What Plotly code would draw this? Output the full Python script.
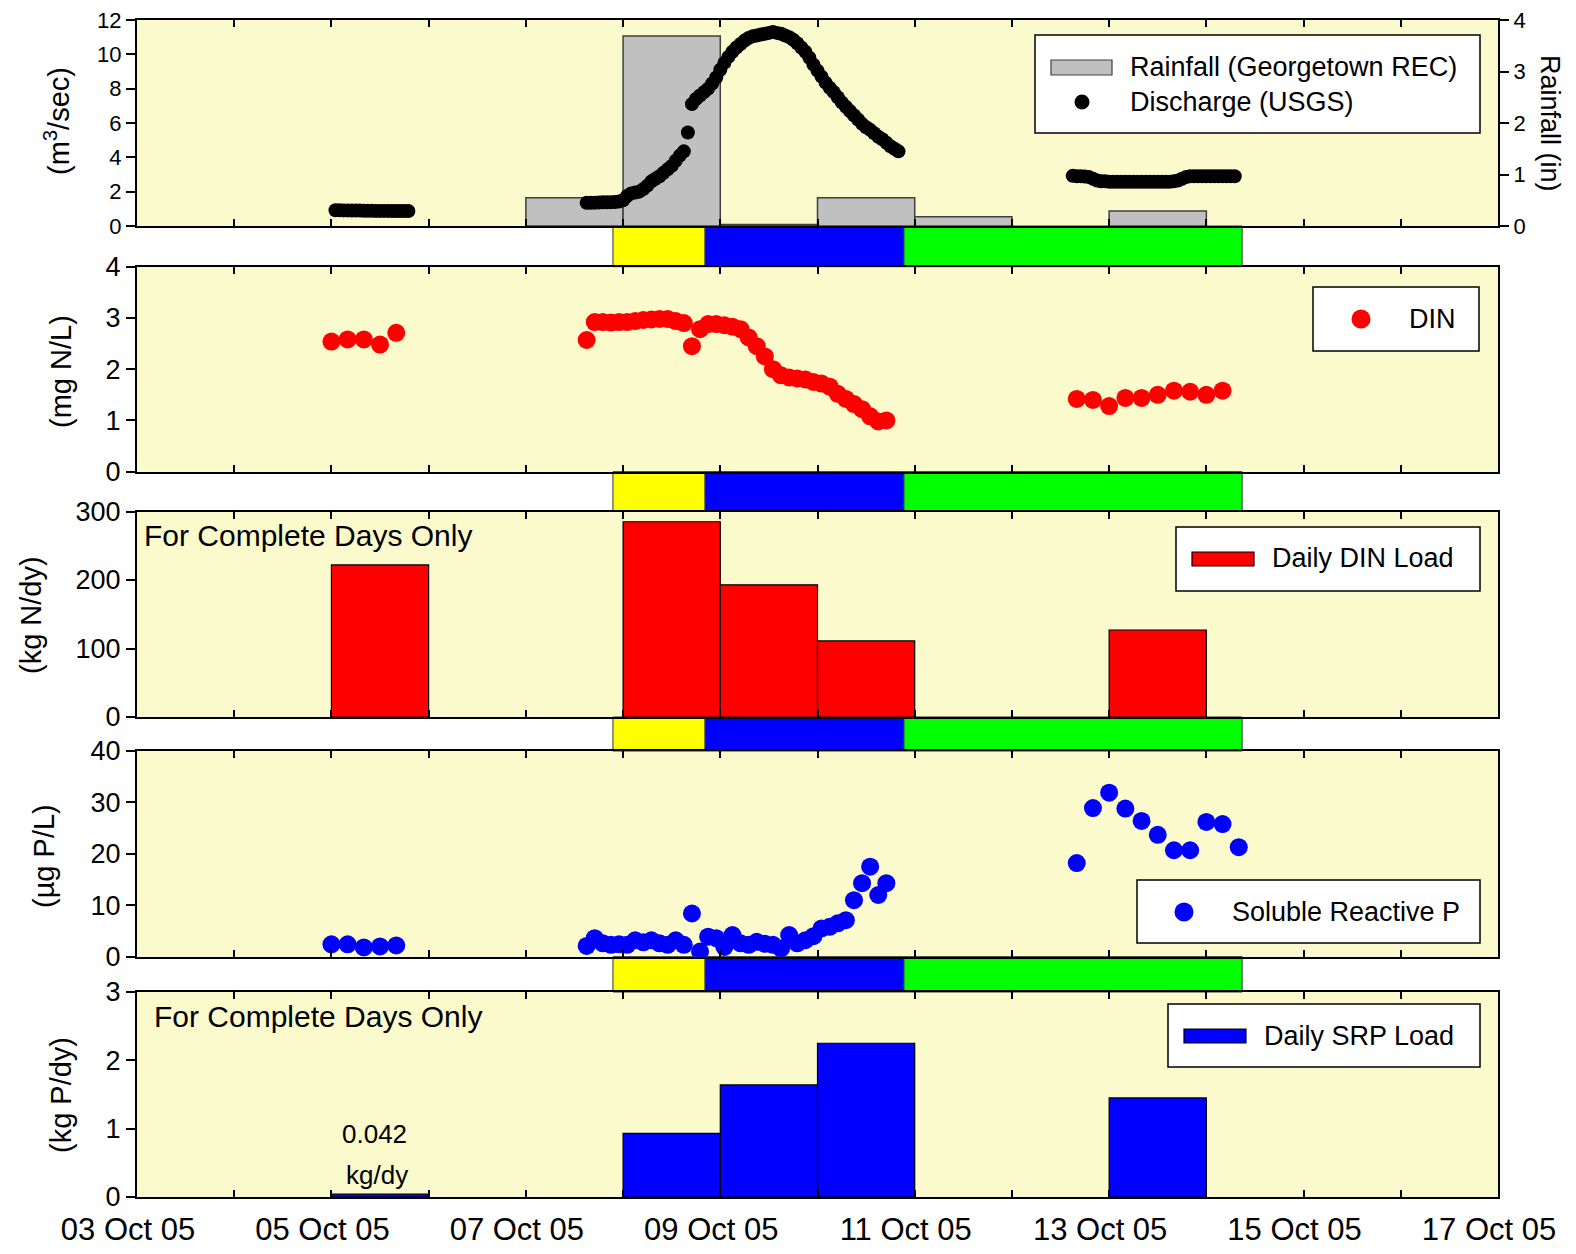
import pandas as pd
import plotly.graph_objects as go

# ---------------- data ----------------
# Discharge (USGS), m3/s, hourly
q_oct5 = [0.92, 0.92, 0.91, 0.91, 0.90, 0.90, 0.90, 0.89, 0.89, 0.89, 0.88, 0.88,
          0.88, 0.88, 0.87, 0.87, 0.87, 0.87, 0.87]                       # Oct 5 01:00 ->
q_storm = [1.35, 1.35, 1.36, 1.37, 1.38, 1.38, 1.39, 1.40, 1.42,           # Oct 7 15:00 ->
           1.50, 1.75, 1.90, 1.95, 2.00, 2.15, 2.35, 2.60, 2.75, 2.90, 3.10, 3.30,
           3.50, 3.80, 4.10, 4.35, 5.45, 7.10, 7.40, 7.60, 7.80, 8.00, 8.30, 8.65,
           9.10, 9.50, 9.85, 10.15, 10.40, 10.60, 10.80, 10.95, 11.05, 11.10, 11.15, 11.20,
           11.25, 11.30, 11.25, 11.20, 11.10, 11.00, 10.85, 10.65, 10.40, 10.15, 9.80, 9.40,
           9.05, 8.70, 8.35, 8.05, 7.80, 7.50, 7.20, 6.95, 6.70, 6.45, 6.20, 5.95,
           5.75, 5.60, 5.40, 5.20, 5.05, 4.85, 4.65, 4.50, 4.35]
q_late = [2.92, 2.90, 2.90, 2.88, 2.85, 2.75, 2.65, 2.60, 2.60,              # Oct 12 15:00 ->
          2.58, 2.58, 2.58, 2.58, 2.58, 2.58, 2.58, 2.58, 2.58, 2.58, 2.58, 2.58,
          2.58, 2.58, 2.58, 2.58, 2.60, 2.65, 2.75, 2.85, 2.90, 2.90, 2.90, 2.90,
          2.90, 2.90, 2.90, 2.90, 2.90, 2.90, 2.90, 2.90]

# Rainfall (Georgetown REC), inches per day
rain_days = ["2005-10-07", "2005-10-08", "2005-10-09", "2005-10-10", "2005-10-11", "2005-10-13"]
rain_in = [0.55, 3.69, 0.03, 0.55, 0.18, 0.29]

# DIN, mg N/L
din_oct5 = [2.54, 2.58, 2.58, 2.48, 2.71]                                  # 4-hourly, Oct 5 00:00
din_storm = [2.57, 2.92, 2.92, 2.91, 2.92, 2.92, 2.94, 2.96, 2.97, 2.98, 2.98, 2.94,
             2.90, 2.45, 2.78, 2.88, 2.88, 2.86, 2.83, 2.78, 2.62, 2.45, 2.25, 2.00,
             1.88, 1.84, 1.82, 1.80, 1.75, 1.72, 1.66, 1.52, 1.42, 1.32, 1.22, 1.08,
             0.98, 1.00]                                                     # 2-hourly, Oct 7 15:00
din_late = [1.42, 1.40, 1.28, 1.44, 1.44, 1.50, 1.58, 1.56, 1.50, 1.58]    # 4-hourly, Oct 12 16:00

# Soluble reactive P, ug P/L
srp_oct5 = [2.4, 2.4, 1.8, 2.0, 2.2]
srp_storm = [2.1, 3.6, 2.6, 2.3, 2.4, 2.3, 3.2, 2.8, 3.2, 2.6, 2.3, 3.2,
             2.3, 8.4, 1.0, 3.9, 3.6, 1.9, 4.2, 2.6, 2.3, 2.9, 2.5, 2.3,
             1.6, 4.2, 2.6, 3.2, 4.0, 5.5, 5.8, 6.5, 7.1, 11.0, 14.3, 17.5,
             12.0, 14.3]
srp_late = [18.2, 28.9, 31.9, 28.8, 26.4, 23.7, 20.7, 20.7, 26.2, 25.8, 21.3]

# Daily loads (complete days only)
load_days = ["2005-10-05", "2005-10-08", "2005-10-09", "2005-10-10", "2005-10-13"]
din_load = [222, 285, 193, 111, 127]      # kg N/dy
srp_load = [0.042, 0.93, 1.64, 2.25, 1.45]  # kg P/dy

# Hydrograph phase bands (start, end, colour)
band_edges = ["2005-10-07 21:30", "2005-10-08 20:15", "2005-10-10 21:20", "2005-10-14 08:50"]
band_colors = ["#FFFF00", "#0000FF", "#00FF00"]

# Axis ticks
major_ticks = ["2005-10-03", "2005-10-05", "2005-10-07", "2005-10-09",
               "2005-10-11", "2005-10-13", "2005-10-15", "2005-10-17"]
tick_labels = ["03 Oct 05", "05 Oct 05", "07 Oct 05", "09 Oct 05",
               "11 Oct 05", "13 Oct 05", "15 Oct 05", "17 Oct 05"]
minor_ticks = ["2005-10-04", "2005-10-06", "2005-10-08", "2005-10-10",
               "2005-10-12", "2005-10-14", "2005-10-16"]

# ---------------- times ----------------
def hourly(start, n, step="h"):
    return list(pd.date_range(start, periods=n, freq=step))

q_t = (hourly("2005-10-05 01:00", len(q_oct5)) + [None] +
       hourly("2005-10-07 15:00", len(q_storm)) + [None] +
       hourly("2005-10-12 15:00", len(q_late)))
q_v = q_oct5 + [None] + q_storm + [None] + q_late

din_t = (hourly("2005-10-05 00:00", len(din_oct5), "4h") +
         hourly("2005-10-07 15:00", len(din_storm), "2h") +
         hourly("2005-10-12 16:00", len(din_late), "4h"))
din_v = din_oct5 + din_storm + din_late
srp_t = (hourly("2005-10-05 00:00", len(srp_oct5), "4h") +
         hourly("2005-10-07 15:00", len(srp_storm), "2h") +
         hourly("2005-10-12 16:00", len(srp_late), "4h"))
srp_v = srp_oct5 + srp_storm + srp_late

DAY_MS = 86400000
def noon(days):
    return [pd.Timestamp(d) + pd.Timedelta(hours=12) for d in days]

# ---------------- geometry (page pixels) ----------------
OFF = 8                       # page body margin
W, H = 1576 - 2 * OFF, 1254 - 2 * OFF
L, R, T, B = 137, 1498, 20, 1197
def px(x):
    return (x - L) / (R - L)
def py(y):
    return (B - y) / (B - T)

panels = [(20, 226), (266.7, 471.7), (511.5, 717), (751, 956.7), (992, 1197)]
doms = [[py(b), py(t)] for t, b in panels]

FONT = "Liberation Sans, Arial, Helvetica, sans-serif"
BG = "#FAFACD"

fig = go.Figure()

fig.add_trace(go.Bar(x=noon(rain_days), y=rain_in, width=[DAY_MS] * len(rain_in),
                     marker=dict(color="#C0C0C0", line=dict(color="#404040", width=1.5)),
                     xaxis="x", yaxis="y", showlegend=False))
fig.add_trace(go.Scatter(x=q_t, y=q_v, mode="markers",
                         marker=dict(color="black", size=14, line=dict(width=0)),
                         xaxis="x", yaxis="y6", showlegend=False, connectgaps=False))
fig.add_trace(go.Scatter(x=din_t, y=din_v, mode="markers",
                         marker=dict(color="#FF0000", size=18, line=dict(width=0)),
                         xaxis="x2", yaxis="y2", showlegend=False))
fig.add_trace(go.Bar(x=noon(load_days), y=din_load, width=[DAY_MS] * len(din_load),
                     marker=dict(color="#FF0000", line=dict(color="black", width=1.2)),
                     xaxis="x3", yaxis="y3", showlegend=False))
fig.add_trace(go.Scatter(x=srp_t, y=srp_v, mode="markers",
                         marker=dict(color="#0000FF", size=18, line=dict(width=0)),
                         xaxis="x4", yaxis="y4", showlegend=False))
fig.add_trace(go.Bar(x=noon(load_days), y=srp_load, width=[DAY_MS] * len(srp_load),
                     marker=dict(color="#0000FF", line=dict(color="black", width=1.2)),
                     xaxis="x5", yaxis="y5", showlegend=False))

xrange = ["2005-10-03", "2005-10-17"]
def xax(anchor, labels=False):
    d = dict(type="date", range=xrange, domain=[0, 1], anchor=anchor, automargin=False,
             tickmode="array", tickvals=major_ticks, ticktext=tick_labels,
             ticks="inside", ticklen=7, tickwidth=1.5, tickcolor="black",
             minor=dict(tickmode="array", tickvals=minor_ticks, ticks="inside",
                        ticklen=7, tickwidth=1.5, tickcolor="black"),
             showline=True, linewidth=2, linecolor="black", mirror="ticks",
             showgrid=False, zeroline=False, showticklabels=labels, ticklabeloverflow="allow",
             tickfont=dict(family="Liberation Sans Narrow, Arial Narrow, " + FONT, size=31, color="black"))
    if labels:
        d["ticklabelshift"] = -9
        d["ticklabelstandoff"] = 4
    return d

def yax(dom, rng, dt, size=27, side="left", mirror=True):
    return dict(domain=dom, range=rng, dtick=dt, tick0=0, side=side, automargin=False,
                ticks="outside", ticklen=9, tickwidth=1.5, tickcolor="black",
                showline=True, linewidth=2, linecolor="black", mirror=mirror,
                showgrid=False, zeroline=False, ticklabeloverflow="allow",
                tickfont=dict(family=FONT, size=size, color="black"))

layout = dict(
    width=W, height=H,
    margin=dict(l=L - OFF, r=(W + OFF) - R, t=T - OFF, b=(H + OFF) - B, autoexpand=False),
    paper_bgcolor="white", plot_bgcolor=BG, font=dict(family=FONT, color="black"),
    showlegend=False, barmode="overlay",
    xaxis=xax("y"), xaxis2=xax("y2"), xaxis3=xax("y3"), xaxis4=xax("y4"), xaxis5=xax("y5", True),
    yaxis=yax(doms[0], [0, 4], 1, size=22, side="right"),
    yaxis2=yax(doms[1], [0, 4], 1),
    yaxis3=yax(doms[2], [0, 300], 100),
    yaxis4=yax(doms[3], [0, 40], 10),
    yaxis5=yax(doms[4], [0, 3], 1),
)
y6 = yax(doms[0], [0, 12], 2, size=22, side="left", mirror=False)
y6.update(overlaying="y", anchor="x")
layout["yaxis6"] = y6
for k in ["xaxis2", "xaxis3", "xaxis4", "xaxis5"]:
    layout[k]["matches"] = "x"
fig.update_layout(**layout)

shapes = []
# phase bands in gaps between panels
gaps = [(226, 266.7), (471.7, 511.5), (717, 751), (956.7, 992)]
for g0, g1 in gaps:
    for i, c in enumerate(band_colors):
        shapes.append(dict(type="rect", xref="x", yref="paper",
                           x0=band_edges[i], x1=band_edges[i + 1], y0=py(g1), y1=py(g0),
                           fillcolor=c, line=dict(color="#303030", width=1), layer="below"))

annos = []
def box(x0, y0, x1, y1):
    shapes.append(dict(type="rect", xref="paper", yref="paper", x0=px(x0), x1=px(x1),
                       y0=py(y1), y1=py(y0), fillcolor="white",
                       line=dict(color="black", width=1.5), layer="above"))
def swatch(x0, y0, x1, y1, color, lc="black"):
    shapes.append(dict(type="rect", xref="paper", yref="paper", x0=px(x0), x1=px(x1),
                       y0=py(y1), y1=py(y0), fillcolor=color,
                       line=dict(color=lc, width=1.2), layer="above"))
def dot(cx, cy, d, color):
    shapes.append(dict(type="circle", xref="paper", yref="paper", x0=px(cx - d / 2), x1=px(cx + d / 2),
                       y0=py(cy + d / 2), y1=py(cy - d / 2), fillcolor=color,
                       line=dict(color=color, width=0), layer="above"))
def text(x, y, s, size=27, xanchor="left", angle=0):
    annos.append(dict(xref="paper", yref="paper", x=px(x), y=py(y), text=s, showarrow=False,
                      xanchor=xanchor, yanchor="middle", textangle=angle,
                      font=dict(family=FONT, size=size, color="black")))

# Legend 1
box(1035, 35, 1480, 133)
swatch(1051, 60, 1112, 75, "#C0C0C0", "#404040")
text(1128, 67, "Rainfall (Georgetown REC)")
dot(1082, 102, 15, "black")
text(1128, 102, "Discharge (USGS)")
# Legend 2
box(1313, 287, 1479, 351)
dot(1361, 319, 19, "#FF0000")
text(1407, 319, "DIN")
# Legend 3
box(1176, 527, 1480, 591)
swatch(1192, 552, 1254, 566, "#FF0000")
text(1270, 558, "Daily DIN Load")
# Legend 4
box(1137, 880, 1480, 943)
dot(1184, 912, 19, "#0000FF")
text(1230, 912, "Soluble Reactive P")
# Legend 5
box(1168, 1004, 1480, 1067)
swatch(1184, 1029, 1246, 1043, "#0000FF")
text(1262, 1036, "Daily SRP Load")

# Panel notes
text(142, 535, "For Complete Days Only", size=30)
text(152, 1016, "For Complete Days Only", size=30)
text(374, 1134, "0.042", size=26, xanchor="center")
text(377, 1175, "kg/dy", size=26, xanchor="center")

# Axis titles
text(57, 121, "(m<sup>3</sup>/sec)", size=29, xanchor="center", angle=-90)
text(1550, 123, "Rainfall (in)", size=27, xanchor="center", angle=90)
text(61, 372, "(mg N/L)", size=29, xanchor="center", angle=-90)
text(31, 615, "(kg N/dy)", size=29, xanchor="center", angle=-90)
text(44, 856, "(µg P/L)", size=29, xanchor="center", angle=-90)
text(61, 1095, "(kg P/dy)", size=29, xanchor="center", angle=-90)

fig.update_layout(shapes=shapes, annotations=annos)
fig.write_html("out.html")
